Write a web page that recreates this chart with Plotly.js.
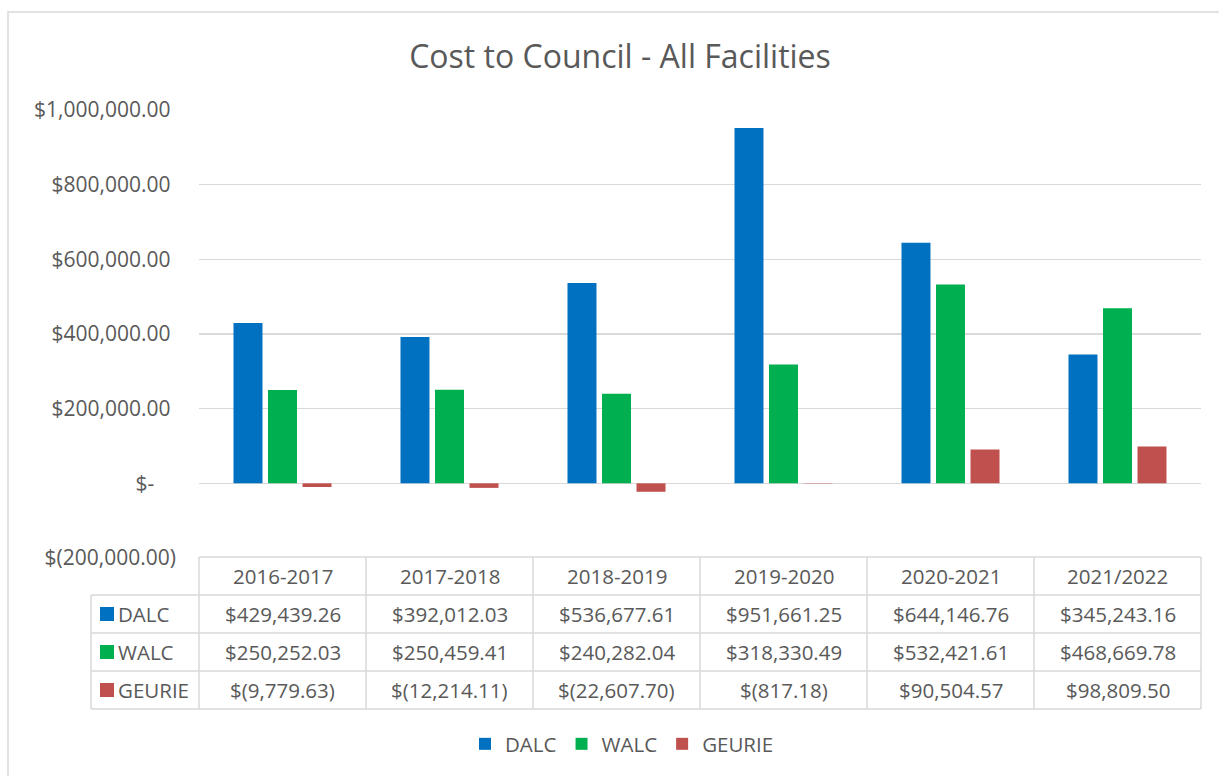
<!DOCTYPE html>
<html>
<head>
<meta charset="utf-8">
<script src="https://cdn.plot.ly/plotly-3.0.1.min.js"></script>
<style>html,body{margin:0;padding:0;background:#fff;}#chart{width:1219px;height:776px;}</style>
</head>
<body>
<div id="chart"></div>
<script>
const categories = ["2016-2017", "2017-2018", "2018-2019", "2019-2020", "2020-2021", "2021/2022"];
const seriesNames = ["DALC", "WALC", "GEURIE"];
const dalc = [429439.26, 392012.03, 536677.61, 951661.25, 644146.76, 345243.16];
const walc = [250252.03, 250459.41, 240282.04, 318330.49, 532421.61, 468669.78];
const geurie = [-9779.63, -12214.11, -22607.70, -817.18, 90504.57, 98809.50];
const tickVals = [-200000, 0, 200000, 400000, 600000, 800000, 1000000];
const tickText = ["$(200,000.00)", "$-\u00a0\u00a0\u00a0\u00a0", "$200,000.00\u00a0", "$400,000.00\u00a0", "$600,000.00\u00a0", "$800,000.00\u00a0", "$1,000,000.00\u00a0"];

const colors = ["#0070C0", "#00B050", "#C0504D"];
const values = [dalc, walc, geurie];
const FONT = "'Open Sans', 'Noto Sans', sans-serif";
const TXT = "#595959";
const GRID = "#D9D9D9";
const FS = 20.5;

function fmt(v) {
  const s = Math.abs(v).toLocaleString("en-US", {minimumFractionDigits: 2, maximumFractionDigits: 2});
  return v < 0 ? "$(" + s + ")" : "$" + s;
}

const W = 1219, H = 776, L = 199, R = 1201, T = 110, B = 558;
const px = p => (p - L) / (R - L);
const py = p => (B - p) / (B - T);

const traces = values.map((v, i) => ({
  type: "bar", name: seriesNames[i], x: categories, y: v,
  marker: {color: colors[i]}, hoverinfo: "skip"
}));

const shapes = [];
const annotations = [];
const rowTops = [557, 595, 633, 671, 709];
const colEdges = [199, 366, 533, 700, 867, 1034, 1201];
const line = {color: GRID, width: 1.5};
rowTops.forEach((y, i) => {
  shapes.push({type: "line", xref: "paper", yref: "paper", x0: px(i === 0 ? 199 : 91), x1: px(1201), y0: py(y), y1: py(y), line});
});
colEdges.forEach(x => {
  shapes.push({type: "line", xref: "paper", yref: "paper", x0: px(x), x1: px(x), y0: py(557), y1: py(709), line});
});
shapes.push({type: "line", xref: "paper", yref: "paper", x0: px(91), x1: px(91), y0: py(595), y1: py(709), line});
shapes.push({type: "rect", xref: "paper", yref: "paper", x0: px(8), x1: px(1230), y0: py(12), y1: py(790), line: {color: GRID, width: 1.5}, layer: "below"});

categories.forEach((c, j) => {
  annotations.push({xref: "paper", yref: "paper", x: px((colEdges[j] + colEdges[j + 1]) / 2), y: py(576), text: c, showarrow: false, xanchor: "center", yanchor: "middle", font: {family: FONT, size: FS, color: TXT}});
});
seriesNames.forEach((n, i) => {
  const yc = (rowTops[i + 1] + rowTops[i + 2]) / 2;
  shapes.push({type: "rect", xref: "paper", yref: "paper", x0: px(100), x1: px(114), y0: py(yc - 7), y1: py(yc + 7), fillcolor: colors[i], line: {width: 0}});
  annotations.push({xref: "paper", yref: "paper", x: px(116), y: py(yc), text: n, showarrow: false, xanchor: "left", yanchor: "middle", font: {family: FONT, size: FS, color: TXT}});
  values[i].forEach((v, j) => {
    annotations.push({xref: "paper", yref: "paper", x: px((colEdges[j] + colEdges[j + 1]) / 2), y: py(yc), text: fmt(v), showarrow: false, xanchor: "center", yanchor: "middle", font: {family: FONT, size: FS, color: TXT}});
  });
});

const layout = {
  width: W, height: H,
  margin: {l: L, r: W - R, t: T, b: H - B, autoexpand: false},
  paper_bgcolor: "#fff", plot_bgcolor: "#fff",
  title: {text: "Cost to Council - All Facilities", x: 620 / W, xref: "container", xanchor: "center", y: 1 - 57 / H, yref: "container", yanchor: "middle", font: {family: FONT, size: 32, color: TXT}},
  barmode: "group", bargap: 0.38, bargroupgap: 0.16,
  xaxis: {showticklabels: false, showgrid: false, zeroline: false, showline: false, ticks: ""},
  yaxis: {range: [-200000, 1000000], tickvals: tickVals, ticktext: tickText, showgrid: true, gridcolor: GRID, gridwidth: 1.5, zeroline: true, zerolinecolor: GRID, zerolinewidth: 1.5, showline: false, ticks: "", ticklabelstandoff: 22, tickfont: {family: FONT, size: 21, color: TXT}},
  showlegend: true,
  legend: {orientation: "h", x: px(622), xref: "paper", xanchor: "center", y: py(744), yanchor: "middle", font: {family: FONT, size: FS, color: TXT}, traceorder: "normal", itemwidth: 30},
  shapes, annotations
};
Plotly.newPlot("chart", traces, layout, {displayModeBar: false, staticPlot: true});
</script>
</body>
</html>
